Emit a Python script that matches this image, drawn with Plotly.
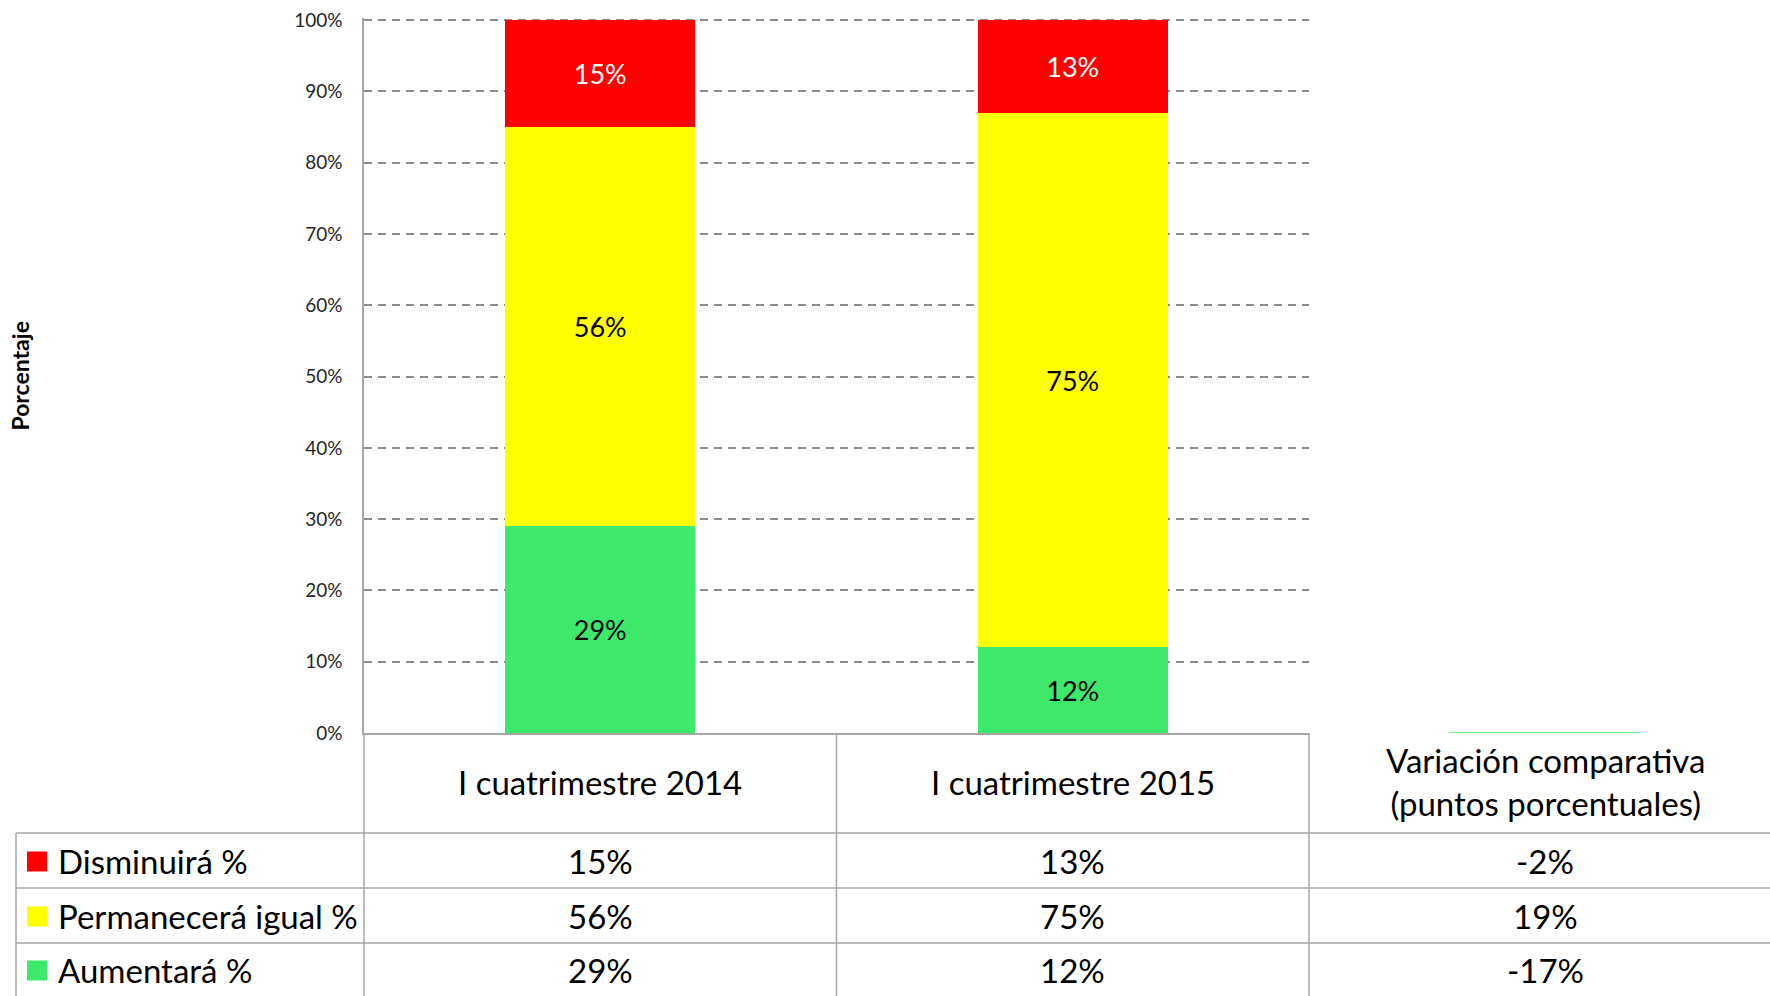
import plotly.graph_objects as go

# ---------------- data ----------------
categories = ["I cuatrimestre 2014", "I cuatrimestre 2015"]
var_header = "Variación comparativa<br>(puntos porcentuales)"
series_names = ["Disminuirá %", "Permanecerá igual %", "Aumentará %"]
disminuira = [15, 13]
permanecera = [56, 75]
aumentara = [29, 12]
variacion = [-2, 19, -17]   # Disminuirá, Permanecerá, Aumentará (pp)
tick_vals = [0, 10, 20, 30, 40, 50, 60, 70, 80, 90, 100]
tick_text = ["0%", "10%", "20%", "30%", "40%", "50%", "60%", "70%", "80%", "90%", "100%"]

# ---------------- styles ----------------
W, H = 1770, 996
FONT = "Lato"
RED, YEL, GRN = "#FF0000", "#FFFF00", "#3DE86B"
colors = [RED, YEL, GRN]
X0, X1 = 364, 1309          # plot area (px)
Y_TOP, Y_AX = 20, 733
YMAX = 1.003                # tiny headroom so the 100% gridline is drawn
LINE = "#A6A6A6"
ML, MR, MB = X0, 0, H - Y_AX
MT = Y_TOP - (YMAX - 1) * (Y_AX - Y_TOP)
TABLE_FS = 33

fig = go.Figure()

# stacked bars (bottom to top: green, yellow, red)
stack = [("Aumentará %", aumentara, GRN, "black"),
         ("Permanecerá igual %", permanecera, YEL, "black"),
         ("Disminuirá %", disminuira, RED, "white")]
for name, vals, col, tcol in stack:
    fig.add_trace(go.Bar(
        x=categories, y=[v / 100 for v in vals], name=name,
        marker=dict(color=col, line=dict(width=0)),
        text=[f"{v}%" for v in vals], textposition="inside",
        insidetextanchor="middle", textangle=0, constraintext="none",
        textfont=dict(family=FONT, size=27, color=tcol),
        xaxis="x", yaxis="y", hoverinfo="skip"))

# third column (variation) - only the green segment edge is visible at 0 in the original
fig.add_trace(go.Bar(
    x=["Variación"], y=[variacion[2] / 100], name="Aumentará % (var)",
    marker=dict(color=GRN, line=dict(width=2, color="#5EF085")),
    xaxis="x2", yaxis="y2", hoverinfo="skip", showlegend=False))

dom_split = (X1 - X0) / (W - X0)
fig.update_layout(
    width=W, height=H, barmode="stack", bargap=0.598,
    margin=dict(l=ML, r=MR, t=MT, b=MB, pad=0),
    plot_bgcolor="white", paper_bgcolor="white", showlegend=False,
    font=dict(family=FONT, color="#000000"),
    xaxis=dict(domain=[0, dom_split], showticklabels=False, ticks="",
               showgrid=False, showline=True, linecolor=LINE, linewidth=1.5,
               zeroline=False, anchor="y"),
    yaxis=dict(range=[0, YMAX], tickvals=[v / 100 for v in tick_vals], ticktext=tick_text,
               tickfont=dict(family=FONT, size=19, color="#262626"),
               showgrid=True, gridcolor="#8C8C8C", gridwidth=2, griddash="8px,6px",
               showline=True, linecolor=LINE, linewidth=1.5, zeroline=False,
               ticks="", ticklabelstandoff=16, anchor="x"),
    xaxis2=dict(domain=[dom_split, 1], range=[-0.5, -0.5 + (W - X1) / ((X1 - X0) / 2)],
                type="category", showticklabels=False, showgrid=False, showline=False,
                zeroline=False, anchor="y2"),
    yaxis2=dict(range=[0, YMAX], domain=[0, 1], visible=False, showgrid=False,
                zeroline=False, anchor="x2"),
)

# pixel -> paper helpers (paper = plot area inside margins)
PW, PH = W - ML - MR, H - MT - MB

def px(x):
    return (x - ML) / PW

def py(y):
    return (H - MB - y) / PH

# y title
fig.add_annotation(text="<b>Porcentaje</b>", x=px(20), y=py((Y_TOP + Y_AX) / 2),
                   xref="paper", yref="paper", showarrow=False, textangle=-90,
                   xanchor="center", yanchor="middle",
                   font=dict(family=FONT, size=23, color="black"))

# ---------------- data table ----------------
X_LEFT = 16
cat_w = (X1 - X0) / 2
col_edges = [X0, X0 + cat_w, X1, W]
col_centers = [X0 + cat_w / 2, X0 + 1.5 * cat_w, X1 + cat_w / 2]
row_lines = [833, 888, 943]
ROW_BOTTOM = 996
shapes = []
for y in row_lines:
    shapes.append(dict(type="line", xref="paper", yref="paper",
                       x0=px(X_LEFT), x1=px(W), y0=py(y), y1=py(y),
                       line=dict(color=LINE, width=1.5)))
shapes.append(dict(type="line", xref="paper", yref="paper", x0=px(X_LEFT), x1=px(X_LEFT),
                   y0=py(row_lines[0]), y1=py(ROW_BOTTOM), line=dict(color=LINE, width=1.5)))
for x in col_edges[:3]:
    shapes.append(dict(type="line", xref="paper", yref="paper", x0=px(x), x1=px(x),
                       y0=py(Y_AX), y1=py(ROW_BOTTOM), line=dict(color=LINE, width=1.5)))

headers = categories + [var_header]
for cx, txt in zip(col_centers, headers):
    fig.add_annotation(text=txt, x=px(cx), y=py((Y_AX + row_lines[0]) / 2 - 1),
                       xref="paper", yref="paper", showarrow=False,
                       font=dict(family=FONT, size=TABLE_FS, color="black"),
                       xanchor="center", yanchor="middle", align="center")

row_vals = [
    [disminuira[0], disminuira[1], variacion[0]],
    [permanecera[0], permanecera[1], variacion[1]],
    [aumentara[0], aumentara[1], variacion[2]],
]
row_tops = [row_lines[0], row_lines[1], row_lines[2]]
row_bots = [row_lines[1], row_lines[2], ROW_BOTTOM]
for i, name in enumerate(series_names):
    cy = (row_tops[i] + row_bots[i]) / 2 + 1
    shapes.append(dict(type="rect", xref="paper", yref="paper",
                       x0=px(27), x1=px(47), y0=py(cy - 10), y1=py(cy + 10),
                       fillcolor=colors[i], line=dict(width=0)))
    fig.add_annotation(text=name, x=px(56), y=py(cy), xref="paper", yref="paper",
                       showarrow=False, xanchor="left", yanchor="middle",
                       font=dict(family=FONT, size=TABLE_FS, color="black"))
    for cx, v in zip(col_centers, row_vals[i]):
        fig.add_annotation(text=f"{v}%", x=px(cx), y=py(cy), xref="paper", yref="paper",
                           showarrow=False, xanchor="center", yanchor="middle",
                           font=dict(family=FONT, size=TABLE_FS, color="black"))

fig.update_layout(shapes=shapes)
fig.write_html("out.html", config={"displayModeBar": False},
               post_script="document.body.style.margin='0';document.body.style.overflow='hidden';")
